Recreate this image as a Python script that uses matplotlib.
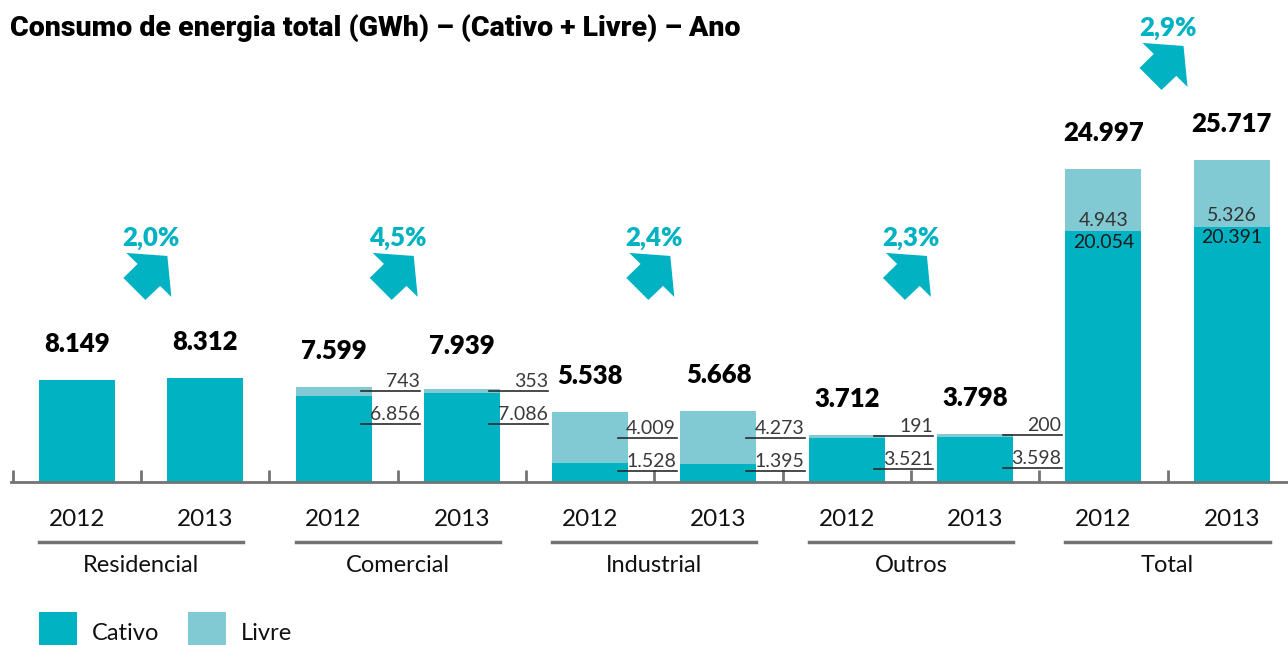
import matplotlib.pyplot as plt
import numpy as np
from matplotlib.patches import Polygon, Rectangle
from matplotlib.transforms import IdentityTransform, blended_transform_factory

plt.rcParams['font.family'] = ['Lato', 'DejaVu Sans']

# data (GWh)
categories = ['Residencial', 'Comercial', 'Industrial', 'Outros', 'Total']
years = ['2012', '2013']
cativo = [[8149, 8312], [6856, 7086], [1528, 1395], [3521, 3598], [20054, 20391]]
livre = [[0, 0], [743, 353], [4009, 4273], [191, 200], [4943, 5326]]
totals = [[8149, 8312], [7599, 7939], [5538, 5668], [3712, 3798], [24997, 25717]]
growth = ['2,0%', '4,5%', '2,4%', '2,3%', '2,9%']

C_CATIVO = '#00B2C2'
C_LIVRE = '#82CAD3'
GRAY = '#737373'
DARK = '#2b2b2b'


def fmt(v):
    return f'{v:,}'.replace(',', '.')


W, H = 1288, 645
fig = plt.figure(figsize=(W / 100, H / 100), dpi=100)
base_px = 163.3          # baseline, pixels from bottom
px_per_unit = 0.0125     # vertical scale
ax = fig.add_axes([11 / W, base_px / H, 1 - 11 / W, (H - base_px) / H])
ax.set_xlim(-0.514, 9.439)
ax.set_ylim(0, (H - base_px) / px_per_unit)


def dy(px):
    # pixels -> data units on the y axis
    return px / px_per_unit


x = np.arange(10)
cat_flat = np.array(cativo).ravel()
liv_flat = np.array(livre).ravel()
tot_flat = np.array(totals).ravel()
bw = 0.592

ax.bar(x, cat_flat, width=bw, color=C_CATIVO, zorder=2)
ax.bar(x, liv_flat, bottom=cat_flat, width=bw, color=C_LIVRE, zorder=2)

# axis: baseline + upward ticks between bars
for s in ['top', 'right', 'left']:
    ax.spines[s].set_visible(False)
ax.spines['bottom'].set_color(GRAY)
ax.spines['bottom'].set_linewidth(2)
ax.set_yticks([])
ax.set_xticks(np.arange(-0.5, 9, 1))
ax.tick_params(axis='x', direction='in', length=9, width=2, color=GRAY, labelbottom=False)

# totals above bars
for xi, t in zip(x, tot_flat):
    ax.text(xi, t + dy(36), fmt(t), ha='center', va='center',
            fontsize=18.5, fontweight='heavy', color='black')

# side labels with leader lines (Comercial, Industrial, Outros)
for c in range(1, 4):
    for j in range(2):
        xi = 2 * c + j
        up = cativo[c][j] + livre[c][j] / 2
        lo = up - dy(33)
        for yy, val in [(up, livre[c][j]), (lo, cativo[c][j])]:
            ax.plot([xi + 0.215, xi + 0.675], [yy, yy], color=DARK, lw=1.2, zorder=3)
            ax.text(xi + 0.67, yy + dy(4), fmt(val), ha='right', va='baseline',
                    fontsize=14, fontweight='normal', color='#3a3a3a')

# labels inside the Total bars
for j in range(2):
    xi = 8 + j
    b = cativo[4][j]
    ax.text(xi, b + dy(11), fmt(livre[4][j]), ha='center', va='center',
            fontsize=14, fontweight='normal', color='#333333', zorder=4)
    ax.text(xi, b - dy(11), fmt(cativo[4][j]), ha='center', va='center',
            fontsize=14, fontweight='normal', color='#1a1a1a', zorder=4)

# growth percentages + arrows
ARROW = np.array([(16, 18), (-25, 15), (-13.75, 26), (-28, 40), (-6, 62),
                  (8.75, 48), (20, 59)])
for c, g in enumerate(growth):
    gx = 2 * c + 0.5 + (0.08 if c == 0 else 0)
    gy = 19500 if categories[c] != 'Total' else 36300
    ax.text(gx, gy, g, ha='center', va='center', fontsize=18.5,
            fontweight='heavy', color=C_CATIVO)
    px, py = ax.transData.transform((gx, gy))
    pts = np.column_stack([px + ARROW[:, 0], py - ARROW[:, 1]])
    fig.add_artist(Polygon(pts, closed=True, transform=IdentityTransform(),
                           facecolor=C_CATIVO, edgecolor='none'))

# year and category labels below the axis
trans = blended_transform_factory(ax.transData, fig.transFigure)
for xi in x:
    ax.text(xi, 1 - 519 / H, years[xi % 2], transform=trans, ha='center',
            va='center', fontsize=17.5, color='#111111')
for c, name in enumerate(categories):
    x0, x1 = 2 * c - bw / 2, 2 * c + 1 + bw / 2
    ax.plot([x0, x1], [1 - 542 / H] * 2, transform=trans, color=GRAY,
            lw=2.5, clip_on=False)
    ax.text(2 * c + 0.5, 1 - 565 / H, name, transform=trans, ha='center',
            va='center', fontsize=17, color='#111111')

# title
fig.text(10 / W, 1 - 28 / H, 'Consumo de energia total (GWh) – (Cativo + Livre) – Ano',
         ha='left', va='center', fontsize=20.5, fontweight='heavy',
         family=['Liberation Sans Narrow', 'Roboto', 'DejaVu Sans'])

# legend
for lx, lab, col in [(39, 'Cativo', C_CATIVO), (188, 'Livre', C_LIVRE)]:
    fig.add_artist(Rectangle((lx / W, 0), 38 / W, 33 / H, transform=fig.transFigure,
                             facecolor=col, edgecolor='none'))
    fig.text((lx + 53) / W, 12 / H, lab, ha='left', va='center', fontsize=17,
             color='#111111')

fig.savefig('out.png', dpi=100)
